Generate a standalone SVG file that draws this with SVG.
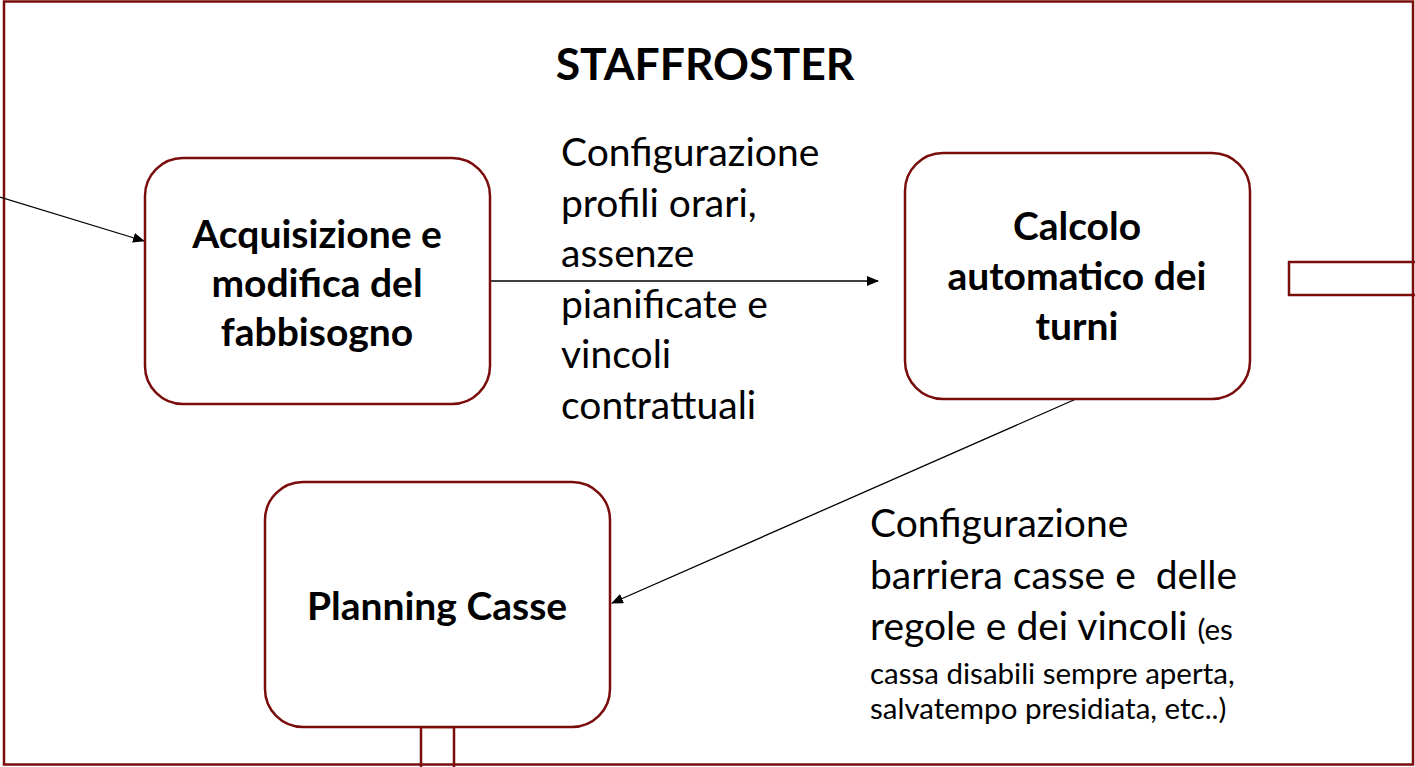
<svg xmlns="http://www.w3.org/2000/svg" width="1415" height="767" viewBox="0 0 1415 767">
<style>
.frame{fill:none;stroke:#7a0c0c;stroke-width:2.5}
.node{fill:#fff;stroke:#7a0c0c;stroke-width:2.5}
.nt{font-family:Lato,"Open Sans",sans-serif;font-weight:bold;font-size:39px;fill:#000;text-anchor:middle}
.lbl{font-family:Lato,"Open Sans",sans-serif;font-size:39px;fill:#000}
.sm{font-size:29.5px}
.conn{stroke:#000;stroke-width:1.3;fill:none;marker-end:url(#ah)}
</style>
<defs>
<marker id="ah" markerWidth="12" markerHeight="10" refX="11" refY="5" orient="auto" markerUnits="userSpaceOnUse">
<path d="M0,0 L12,5 L0,10 z" fill="#000"/>
</marker>
</defs>
<rect width="1415" height="767" fill="#fff"/>
<rect class="frame" x="4" y="1.5" width="1409" height="763"/>
<text x="705" y="80" font-family="Lato,'Open Sans',sans-serif" font-weight="bold" font-size="44.5" text-anchor="middle">STAFFROSTER</text>
<rect class="frame" x="1289" y="262" width="130" height="33"/>
<rect class="frame" x="421" y="727" width="33" height="45"/>
<g id="connectors">
<line class="conn" x1="0" y1="197" x2="144" y2="241"/>
<line class="conn" x1="490" y1="281" x2="878" y2="281"/>
<line class="conn" x1="1076" y1="399" x2="612" y2="603"/>
</g>
<g id="n1">
<rect class="node" x="145" y="158" width="345" height="246" rx="38"/>
<text class="nt" x="317" y="248">Acquisizione e</text>
<text class="nt" x="317" y="297">modifica del</text>
<text class="nt" x="317" y="346">fabbisogno</text>
</g>
<g id="n2">
<rect class="node" x="905" y="153" width="345" height="246" rx="38"/>
<text class="nt" x="1077" y="240">Calcolo</text>
<text class="nt" x="1077" y="290">automatico dei</text>
<text class="nt" x="1077" y="340">turni</text>
</g>
<g id="n3">
<rect class="node" x="265" y="482" width="345" height="245" rx="38"/>
<text class="nt" x="437" y="620">Planning Casse</text>
</g>
<g id="label1">
<text class="lbl" x="561" y="166">Configurazione</text>
<text class="lbl" x="561" y="217">profili orari,</text>
<text class="lbl" x="561" y="267">assenze</text>
<text class="lbl" x="561" y="318">pianificate e</text>
<text class="lbl" x="561" y="368">vincoli</text>
<text class="lbl" x="561" y="419">contrattuali</text>
</g>
<g id="label2">
<text class="lbl" x="870" y="537">Configurazione</text>
<text class="lbl" x="870" y="589" xml:space="preserve">barriera casse e  delle</text>
<text class="lbl" x="870" y="640">regole e dei vincoli <tspan class="sm">(es</tspan></text>
<text class="lbl sm" x="870" y="684">cassa disabili sempre aperta,</text>
<text class="lbl sm" x="870" y="719">salvatempo presidiata, etc..)</text>
</g>
</svg>
